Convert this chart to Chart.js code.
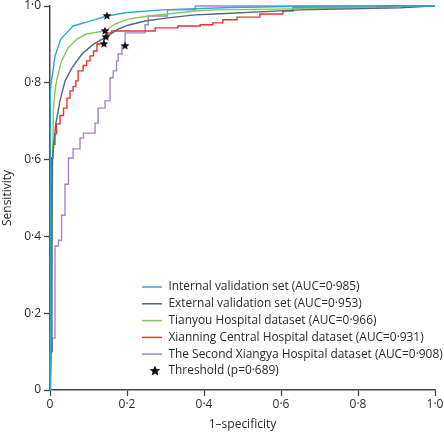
<!DOCTYPE html>
<html>
<head>
<meta charset="utf-8">
<script src="https://cdn.jsdelivr.net/npm/chart.js@4"></script>
<style>
html,body{margin:0;padding:0;background:#fff;}
#wrap{width:444px;height:434px;position:relative;}
</style>
</head>
<body>
<div id="wrap"><canvas id="c" width="444" height="434"></canvas></div>
<script>
// ---- data ----
const tickLabels = ["0", "0·2", "0·4", "0·6", "0·8", "1·0"];
const xTitle = "1–specificity";
const yTitle = "Sensitivity";

const seriesNames = [
  "Internal validation set (AUC=0·985)",
  "External validation set (AUC=0·953)",
  "Tianyou Hospital dataset (AUC=0·966)",
  "Xianning Central Hospital dataset (AUC=0·931)",
  "The Second Xiangya Hospital dataset (AUC=0·908)"
];
const thresholdName = "Threshold (p=0·689)";
const seriesColors = ["#2ea8d3", "#52687b", "#86c45f", "#e8362f", "#a386c8"];

const internalFpr = [0, 0, 0.002, 0.004, 0.013, 0.028, 0.043, 0.06, 0.095, 0.148, 0.2, 0.29, 0.377, 0.468, 0.7, 1];
const internalTpr = [0, 0.76, 0.78, 0.805, 0.87, 0.914, 0.93, 0.948, 0.958, 0.974, 0.983, 0.99, 0.993, 0.996, 1, 1];

const externalFpr = [0, 0.003, 0.005, 0.006, 0.015, 0.026, 0.039, 0.057, 0.083, 0.112, 0.145, 0.177, 0.203, 0.247, 0.306, 0.377, 0.43, 0.65, 0.91, 0.987, 1];
const externalTpr = [0, 0.1, 0.4, 0.6, 0.693, 0.753, 0.805, 0.839, 0.875, 0.9, 0.919, 0.94, 0.95, 0.961, 0.969, 0.977, 0.979, 0.99, 0.995, 1, 1];

const tianyouFpr = [0, 0.002, 0.005, 0.007, 0.009, 0.013, 0.017, 0.03, 0.047, 0.07, 0.095, 0.143, 0.169, 0.203, 0.255, 0.306, 0.377, 0.43, 0.82, 1];
const tianyouTpr = [0, 0.1, 0.35, 0.6, 0.734, 0.779, 0.805, 0.857, 0.891, 0.914, 0.927, 0.935, 0.953, 0.966, 0.974, 0.979, 0.987, 0.99, 0.995, 1];

const xianningFpr = [0, 0.001, 0.003, 0.004, 0.008, 0.013, 0.017, 0.026, 0.035, 0.044, 0.052, 0.06, 0.067, 0.073, 0.086, 0.095, 0.104, 0.113, 0.122, 0.14, 0.15, 0.16, 0.273, 0.332, 0.39, 0.423, 0.449, 0.486, 0.545, 0.605, 0.631, 0.849, 0.987, 1];
const xianningTpr = [0, 0.15, 0.35, 0.5, 0.604, 0.64, 0.667, 0.693, 0.715, 0.734, 0.76, 0.779, 0.79, 0.805, 0.831, 0.845, 0.857, 0.87, 0.883, 0.901, 0.917, 0.93, 0.935, 0.943, 0.948, 0.951, 0.956, 0.964, 0.971, 0.979, 0.987, 0.995, 1, 1];

const xiangyaFpr = [0, 0, 0.006, 0.013, 0.022, 0.03, 0.039, 0.048, 0.06, 0.078, 0.087, 0.117, 0.125, 0.143, 0.156, 0.164, 0.173, 0.177, 0.187, 0.195, 0.247, 0.255, 0.305, 0.377, 0.468, 1];
const xiangyaTpr = [0, 0.085, 0.1, 0.135, 0.375, 0.39, 0.455, 0.536, 0.604, 0.628, 0.656, 0.669, 0.695, 0.734, 0.753, 0.813, 0.831, 0.857, 0.875, 0.896, 0.93, 0.951, 0.974, 0.99, 1, 1];

const thresholdFpr = [0.148, 0.145, 0.143, 0.14, 0.195];
const thresholdTpr = [0.974, 0.919, 0.935, 0.901, 0.896];

// ---- build ----
const fprs = [internalFpr, externalFpr, tianyouFpr, xianningFpr, xiangyaFpr];
const tprs = [internalTpr, externalTpr, tianyouTpr, xianningTpr, xiangyaTpr];
const steppedMode = [false, false, false, 'after', 'after'];
const toPts = (xs, ys) => xs.map((x, i) => ({x: x, y: ys[i]}));

function makeStar(r) {
  const s = Math.ceil(r * 2 + 2);
  const cv = document.createElement('canvas');
  cv.width = s; cv.height = s;
  const g = cv.getContext('2d');
  g.fillStyle = '#111';
  g.beginPath();
  for (let i = 0; i < 10; i++) {
    const a = -Math.PI / 2 + i * Math.PI / 5;
    const rr = i % 2 === 0 ? r : r * 0.45;
    const px = s / 2 + rr * Math.cos(a), py = s / 2 + rr * Math.sin(a);
    if (i === 0) g.moveTo(px, py); else g.lineTo(px, py);
  }
  g.closePath();
  g.fill();
  return cv;
}
const star = makeStar(4.6);
const legendStar = makeStar(5.6);

const datasets = seriesNames.map((n, i) => ({
  type: 'line',
  label: n,
  data: toPts(fprs[i], tprs[i]),
  borderColor: seriesColors[i],
  borderWidth: 1.4,
  pointRadius: 0,
  fill: false,
  tension: 0,
  stepped: steppedMode[i],
  clip: 4
}));
datasets.push({
  type: 'scatter',
  label: thresholdName,
  data: toPts(thresholdFpr, thresholdTpr),
  pointStyle: star,
  pointRadius: 5,
  order: -1,
  clip: 6
});

const TXT = '#2b2b2b';
const FONT = 'Open Sans';

const legendPlugin = {
  id: 'roclegend',
  afterDatasetsDraw(chart) {
    const ctx = chart.ctx, ca = chart.chartArea;
    const x0 = ca.left + 92, lineLen = 20, textX = ca.left + 118.5;
    const y0 = ca.bottom - 103, dy = 16.8;
    ctx.save();
    ctx.font = '11.9px "' + FONT + '"';
    ctx.textBaseline = 'middle';
    ctx.fillStyle = TXT;
    seriesNames.forEach((n, i) => {
      const y = y0 + i * dy;
      ctx.strokeStyle = seriesColors[i];
      ctx.lineWidth = 1.5;
      ctx.beginPath(); ctx.moveTo(x0, y); ctx.lineTo(x0 + lineLen, y); ctx.stroke();
      ctx.fillText(n, textX, y);
    });
    const yT = y0 + 5 * dy;
    ctx.drawImage(legendStar, x0 + lineLen / 2 - legendStar.width / 2 + 3, yT - legendStar.height / 2);
    ctx.fillText(thresholdName, textX, yT);
    ctx.restore();
  }
};

const axisCommon = {
  type: 'linear',
  min: 0, max: 1,
  border: {display: true, color: '#444', width: 1.5},
  grid: {drawOnChartArea: false, drawTicks: true, tickLength: 6, tickColor: '#444', tickWidth: 1.3},
};

new Chart(document.getElementById('c'), {
  data: {datasets: datasets},
  options: {
    responsive: false,
    animation: false,
    events: [],
    layout: {padding: {top: 5, right: 9, left: 0, bottom: 0}},
    plugins: {legend: {display: false}, tooltip: {enabled: false}},
    scales: {
      x: Object.assign({}, axisCommon, {
        position: 'bottom',
        ticks: {stepSize: 0.2, padding: 1, color: TXT, font: {family: FONT, size: 12},
          callback: (v, i) => tickLabels[i]},
        title: {display: true, text: xTitle, color: TXT, font: {family: FONT, size: 12}, padding: {top: 0, bottom: 2}},
        afterFit: s => { s.height = 44; s.paddingLeft = 0; s.paddingRight = 0; }
      }),
      y: Object.assign({}, axisCommon, {
        position: 'left',
        ticks: {stepSize: 0.2, padding: 3, color: TXT, font: {family: FONT, size: 12},
          callback: (v, i) => tickLabels[i]},
        title: {display: true, text: yTitle, color: TXT, font: {family: FONT, size: 12}, padding: {top: 0, bottom: 0}},
        afterFit: s => { s.width = 50; s.paddingTop = 0; s.paddingBottom = 0; }
      })
    }
  },
  plugins: [legendPlugin]
});
</script>
</body>
</html>
